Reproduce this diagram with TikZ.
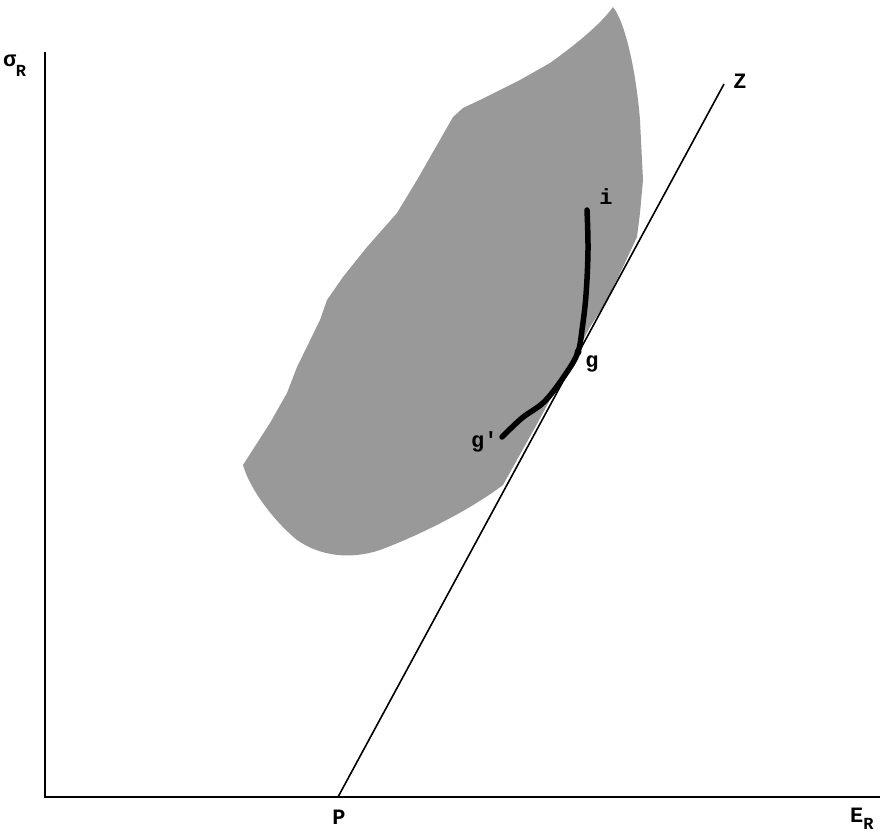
\documentclass[tikz,border=0pt]{standalone}
\usepackage{fontspec}
\setmonofont{Liberation Mono}
\begin{document}
\begin{tikzpicture}[x=1bp,y=-1bp,
  axisline/.style={line width=2bp,black},
  zline/.style={line width=1.6bp,black},
  region/.style={fill=black!40,draw=none},
  locus/.style={line width=5.5bp,black,line cap=round,line join=round},
  lbl/.style={font=\fontsize{22}{26}\selectfont\ttfamily\bfseries,inner sep=0pt}]
\useasboundingbox (0,0) rectangle (883,834);
% shaded opportunity region
\path[region] (613,7) .. controls (625,22) and (636,70) .. (640,120)
  -- (643,180) -- (640,213) -- (637,237) -- (623,267) -- (607,300)
  -- (590,327) -- (578,350) -- (558,385) -- (537,424) -- (518,458) -- (503,485)
  .. controls (470,510) and (420,535) .. (380,550)
  .. controls (350,560) and (320,556) .. (297,540)
  .. controls (275,522) and (250,490) .. (243,465)
  -- (270,423) -- (287,393) -- (297,367) -- (320,320) -- (327,300)
  -- (343,277) -- (367,247) -- (397,213) -- (417,180) -- (453,117)
  -- (463,108) -- (480,100) -- (520,80) -- (550,63)
  .. controls (575,45) and (600,25) .. (613,7) -- cycle;
% axes
\coordinate (O) at (45,797);
\coordinate (ytop) at (45,52);
\coordinate (xend) at (880,797);
\draw[axisline] (ytop) -- (O) -- (xend);
% line PZ
\coordinate (P) at (338,797);
\coordinate (Ztop) at (724,84);
\draw[zline] (P) -- (Ztop);
% locus i-g-g'
\coordinate (i) at (587,210);
\coordinate (g) at (578,352);
\coordinate (gp) at (502,437);
\draw[locus] plot[smooth,tension=0.6] coordinates {(i) (588,250) (586,295) (582,330) (g) (567,372) (545,401) (522,418) (gp)};
\fill (g) circle (3.5bp);
% labels
\node[lbl,anchor=base west] (sigR) at (3,66) {σ\kern-0.5bp\raisebox{-10bp}{\fontsize{17}{20}\selectfont R}};
\node[lbl] (Plbl) at (339,817) {P};
\node[lbl,anchor=base west] (ER) at (850,822) {E\raisebox{-7bp}{\fontsize{17}{20}\selectfont R}};
\node[lbl] (Zlbl) at (740,81) {Z};
\node[lbl] (ilbl) at (606,197) {i};
\node[lbl,anchor=base] (glbl) at (592,367) {g};
\node[lbl,anchor=base west] (gplbl) at (471,447) {g'};
\end{tikzpicture}
\end{document}
